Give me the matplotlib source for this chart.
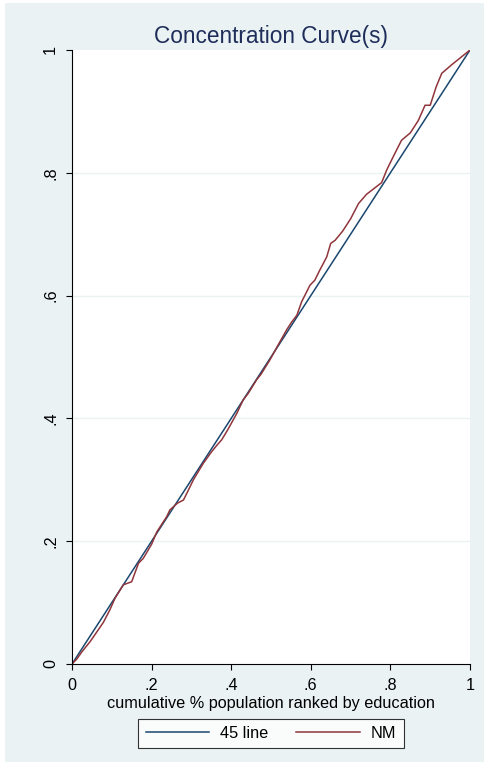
import matplotlib
matplotlib.use("Agg")
import matplotlib.pyplot as plt
from matplotlib.patches import Rectangle

plt.rcParams["font.family"] = ["Liberation Sans", "DejaVu Sans"]

# cumulative share of population (ranked by education) and of the NM variable
pop_share = [
    0.0, 0.012, 0.025, 0.045, 0.06, 0.079, 0.095, 0.108, 0.129, 0.15,
    0.167, 0.179, 0.2, 0.213, 0.238, 0.246, 0.265, 0.28, 0.29, 0.305,
    0.33, 0.35, 0.365, 0.376, 0.39, 0.414, 0.43, 0.443, 0.464, 0.475,
    0.497, 0.52, 0.54, 0.552, 0.565, 0.577, 0.598, 0.61, 0.623, 0.64,
    0.65, 0.661, 0.68, 0.70, 0.72, 0.74, 0.76, 0.778, 0.791, 0.81,
    0.828, 0.85, 0.87, 0.887, 0.9, 0.915, 0.929, 0.954, 0.979, 1.0,
]
nm_share = [
    0.0, 0.008, 0.02, 0.036, 0.05, 0.068, 0.088, 0.107, 0.129, 0.134,
    0.164, 0.172, 0.195, 0.215, 0.24, 0.251, 0.262, 0.267, 0.28, 0.3,
    0.327, 0.345, 0.357, 0.365, 0.38, 0.408, 0.43, 0.441, 0.463, 0.472,
    0.495, 0.522, 0.545, 0.557, 0.568, 0.59, 0.617, 0.625, 0.642, 0.663,
    0.685, 0.69, 0.705, 0.725, 0.75, 0.765, 0.775, 0.784, 0.805, 0.83,
    0.853, 0.865, 0.885, 0.91, 0.91, 0.94, 0.962, 0.976, 0.989, 1.0,
]
equality = [0.0, 1.0]

ticks = [0, 0.2, 0.4, 0.6, 0.8, 1.0]
tick_labels = ["0", ".2", ".4", ".6", ".8", "1"]

NAVY = "#1a476f"
MAROON = "#90353b"
BG = "#eaf2f3"

W, H = 485, 771
fig = plt.figure(figsize=(W / 100, H / 100), dpi=100)
fig.patch.set_facecolor("white")
fig.add_artist(Rectangle((5 / W, 9 / H), 1 - 5 / W, 1 - 12 / H,
                         transform=fig.transFigure, facecolor=BG,
                         edgecolor="none", zorder=0))

ax = fig.add_axes([72 / W, 107 / H, 398 / W, 614 / H])
ax.set_facecolor("white")
ax.set_xlim(0, 1)
ax.set_ylim(0, 1)

ax.plot(equality, equality, color=NAVY, lw=1.1, label="45 line")
ax.plot(pop_share, nm_share, color=MAROON, lw=1.1, label="NM")

for y in ticks[1:-1]:
    ax.axhline(y, color=BG, lw=1.0, zorder=0)

ax.set_xticks(ticks)
ax.set_xticklabels(tick_labels)
ax.set_yticks(ticks)
ax.set_yticklabels(tick_labels, rotation=90, va="center")
ax.tick_params(axis="both", direction="out", length=4, width=0.8,
               labelsize=11.7, colors="black", pad=6)

for side in ("top", "right"):
    ax.spines[side].set_visible(False)
for side in ("left", "bottom"):
    ax.spines[side].set_linewidth(0.8)
    ax.spines[side].set_color("black")

ax.set_xlabel("cumulative % population ranked by education", fontsize=11.7,
              labelpad=2)
ax.set_title("Concentration Curve(s)", fontsize=16.3, color="#1e2d5a", pad=5)

leg = fig.legend(loc="center", bbox_to_anchor=(271 / W, 1 - 733.5 / H),
                 ncol=2, fontsize=11.7, frameon=True, fancybox=False,
                 edgecolor="black", handlelength=3.9, columnspacing=1.7,
                 handletextpad=0.7, borderpad=0.45)
leg.get_frame().set_linewidth(0.8)

fig.savefig("out.png", dpi=100, facecolor=fig.get_facecolor())
